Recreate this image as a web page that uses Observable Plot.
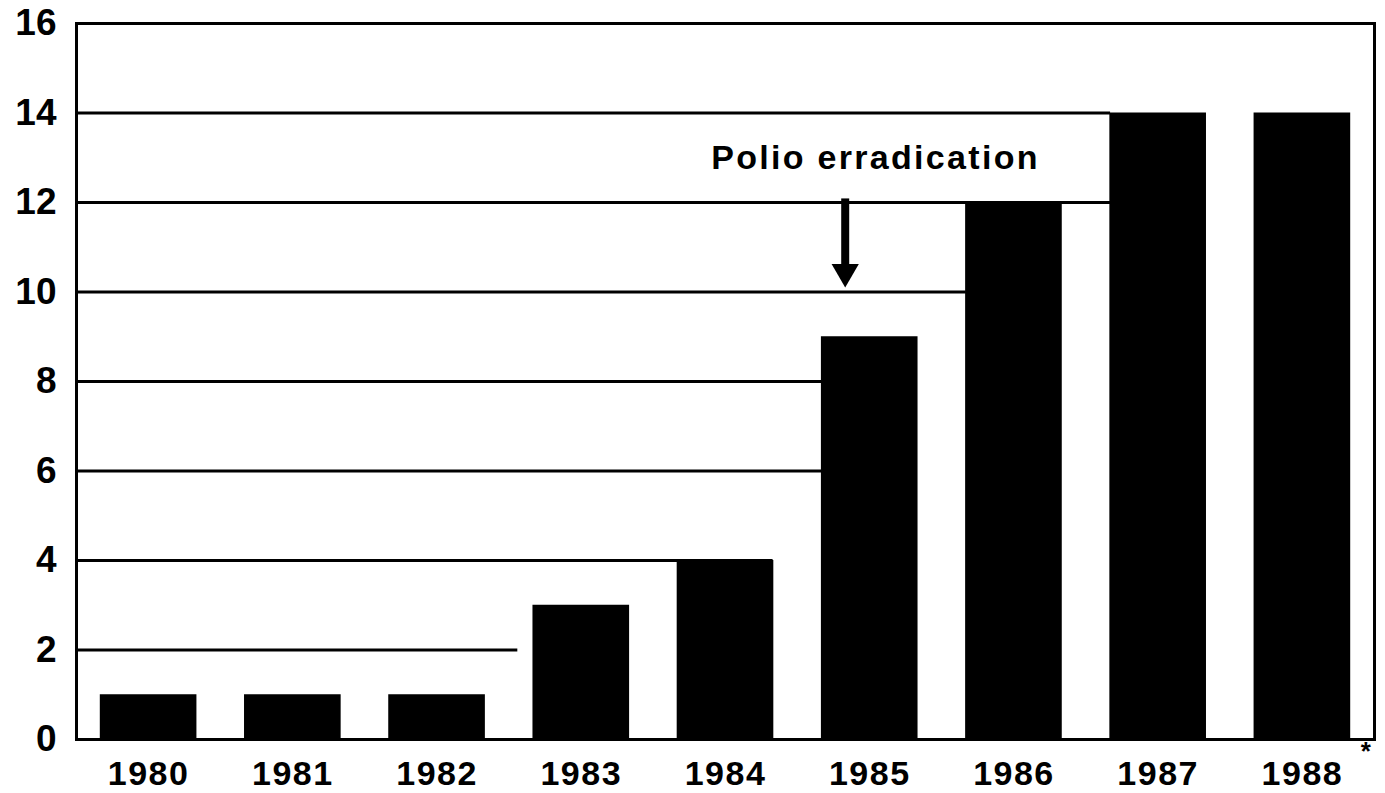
<!DOCTYPE html>
<html>
<head>
<meta charset="utf-8">
<script src="https://cdn.jsdelivr.net/npm/d3@7"></script>
<script src="https://cdn.jsdelivr.net/npm/@observablehq/plot@0.6"></script>
<style>
  html, body { margin: 0; padding: 0; background: #fff; }
  #chart svg { display: block; }
</style>
</head>
<body>
<div id="chart"></div>
<script>
// ---- data ----
const years = [1980, 1981, 1982, 1983, 1984, 1985, 1986, 1987, 1988];
const values = [1, 1, 1, 3, 4, 9, 12, 14, 14];
const yTicks = [0, 2, 4, 6, 8, 10, 12, 14, 16];
// horizontal reference lines and where (in year units) each one stops
const gridValues = [2, 4, 6, 8, 10, 12, 14];
const gridEnds = [1982.56, 1984.33, 1984.67, 1984.67, 1985.67, 1986.67, 1986.67];
// annotation
const annotationText = ["Polio erradication"];
const annotationPos = [{x: 1985.04, y: 13.0}];
const arrowShaft = [{x: 1984.83, y1: 12.08, y2: 10.6}];
const arrowHead = [{x: 1984.83, y: 10.45}];
const footnote = [{x: 1988.44, y: -0.28, text: "*"}];

// ---- build tables ----
const bars = years.map((year, i) => ({year, value: values[i]}));
const grid = gridValues.map((v, i) => ({v, end: gridEnds[i]}));
const halfBar = 0.335;
const font = '"Liberation Sans", Arial, Helvetica, sans-serif';

const chart = Plot.plot({
  width: 1385,
  height: 793,
  marginLeft: 76,
  marginRight: 11,
  marginTop: 23,
  marginBottom: 54,
  style: {fontFamily: font, background: "#fff", color: "#000", overflow: "visible"},
  x: {domain: [1979.5, 1988.5], axis: null},
  y: {domain: [0, 16], axis: null},
  marks: [
    Plot.ruleY(grid, {y: "v", x1: 1979.5, x2: "end", stroke: "#000", strokeWidth: 3}),
    Plot.rectY(bars, {x1: d => d.year - halfBar, x2: d => d.year + halfBar, y1: 0, y2: "value", fill: "#000"}),
    Plot.frame({stroke: "#000", strokeWidth: 3}),
    Plot.axisY({ticks: yTicks, tickSize: 0, tickPadding: 20, fontSize: 37, fontWeight: "bold", label: null}),
    Plot.axisX({ticks: years, tickFormat: d => String(d), tickSize: 0, tickPadding: 21, fontSize: 34, fontWeight: "bold", label: null}),
    Plot.ruleX(arrowShaft, {x: "x", y1: "y1", y2: "y2", stroke: "#000", strokeWidth: 8}),
    Plot.dot(arrowHead, {x: "x", y: "y", symbol: "triangle2", rotate: 180, r: 13, fill: "#000", stroke: "none"}),
    Plot.text(annotationPos, {x: "x", y: "y", text: () => annotationText[0], fontSize: 34, fontWeight: "bold", textAnchor: "middle", fill: "#000"}),
    Plot.text(footnote, {x: "x", y: "y", text: "text", fontSize: 26, fontWeight: "bold", fill: "#000"})
  ]
});

document.getElementById("chart").append(chart);

// letter spacing like the reference's wide bold lettering
d3.select(chart).selectAll("text").each(function() {
  const t = this.textContent;
  if (t === annotationText[0]) this.style.letterSpacing = "2.3px";
  else if (/^19\d\d$/.test(t)) this.style.letterSpacing = "1.5px";
});
</script>
</body>
</html>
